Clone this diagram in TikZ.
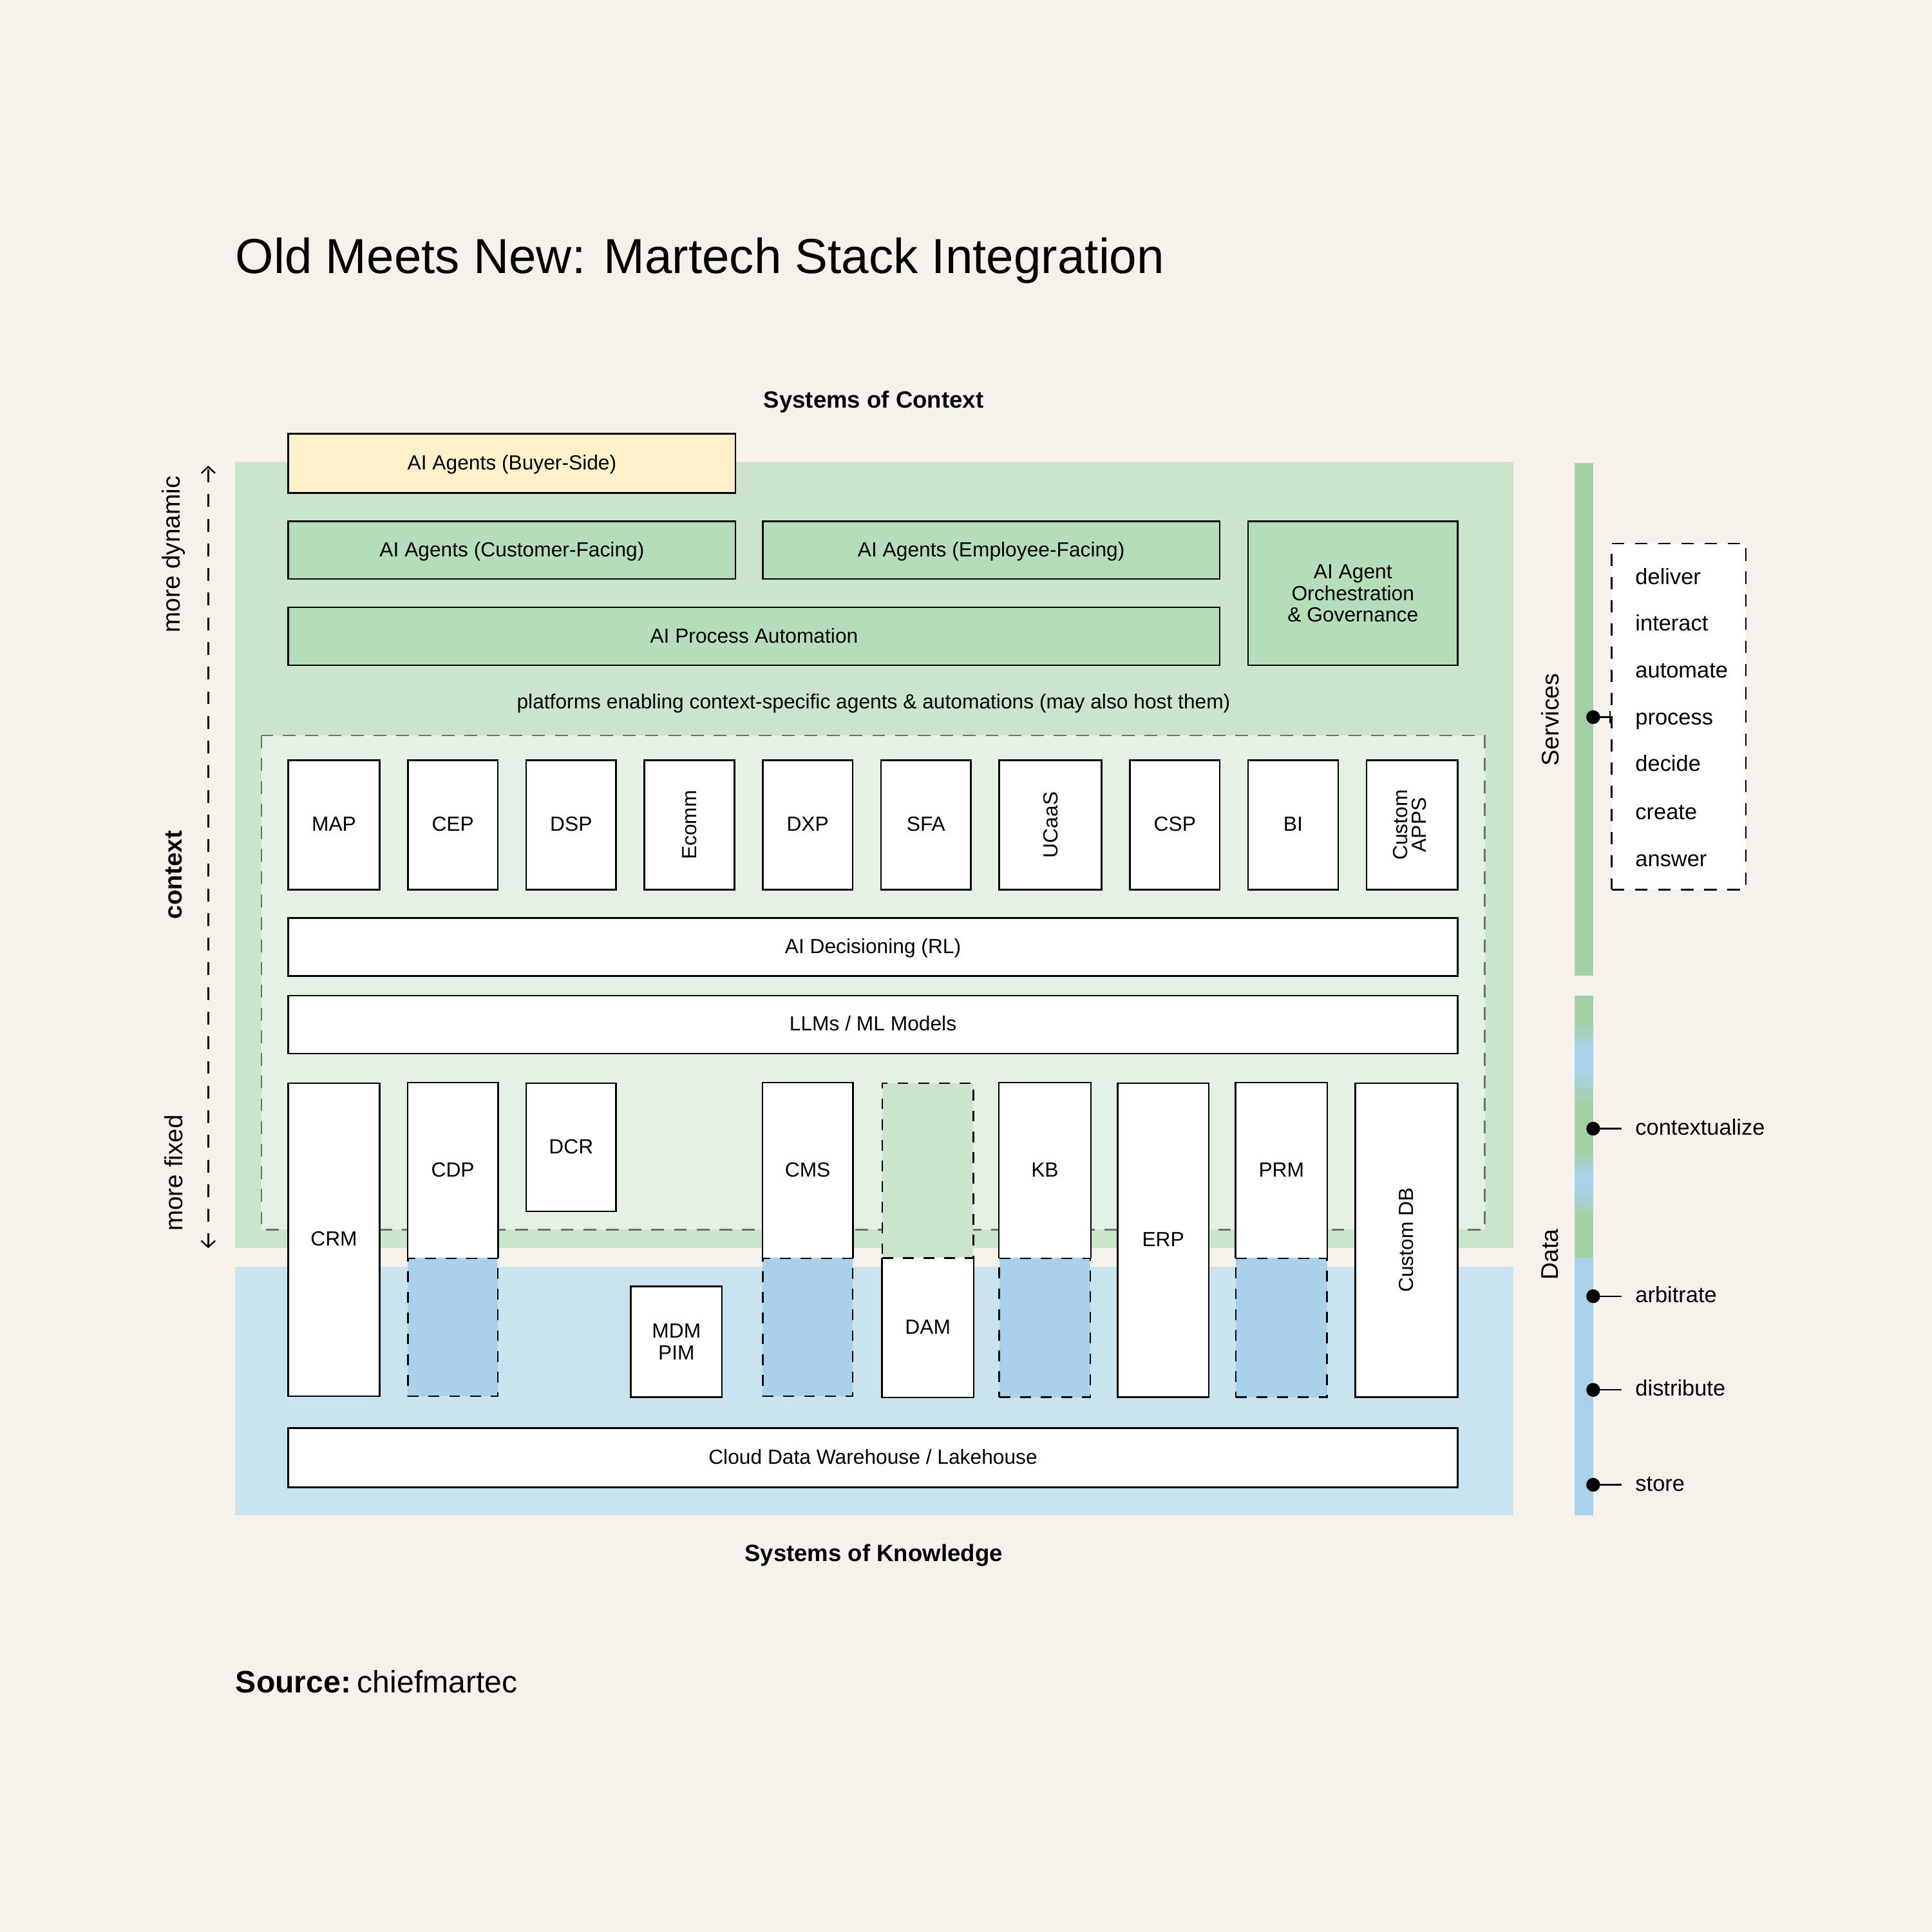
\documentclass[tikz,border=0pt]{standalone}
\usepackage{fontspec}
\setmainfont{Liberation Sans}
\usetikzlibrary{arrows.meta}
\definecolor{bgc}{HTML}{F6F2EB}
\definecolor{gregion}{HTML}{CBE5CC}
\definecolor{ginner}{HTML}{E4F1E4}
\definecolor{bregion}{HTML}{C9E3EF}
\definecolor{gbox}{HTML}{B6DDBA}
\definecolor{ybox}{HTML}{FEF1CA}
\definecolor{bdash}{HTML}{A9D1EA}
\definecolor{gbar}{HTML}{A3CFA6}
\definecolor{bbar}{HTML}{AAD2EA}
\definecolor{dgray}{HTML}{6A766A}
\newcommand\fboxt{\fontsize{11.8pt}{13.6pt}\selectfont}
\newcommand\fside{\fontsize{12.8pt}{14pt}\selectfont}
\newcommand\fleft{\fontsize{14.4pt}{16pt}\selectfont}
% [style] name x1 y1 x2 y2 text
\newcommand\rbox[7][]{\node[#1, minimum width={(#5-#3)*0.25mm}, minimum height={(#6-#4)*0.25mm}] (#2) at ({(#3+#5)/2},{(#4+#6)/2}) {#7};}
\tikzset{
  capc/.style={text height=1.38ex, text depth=0pt},
  natural/.style={text height=, text depth=},
  boxx/.style={draw=black, line width=0.9pt, fill=white, inner sep=0pt, font=\fboxt, align=center, capc},
  topwhite/.style={fill=white, inner sep=0pt, font=\fboxt, align=center, capc},
  bluedash/.style={draw=black, line width=0.9pt, fill=bdash, dash pattern=on 2.2mm off 2mm, inner sep=0pt},
  greendash/.style={draw=black, line width=0.9pt, fill=gregion, dash pattern=on 2.2mm off 2mm, inner sep=0pt},
  openline/.style={draw=black, line width=0.9pt},
  dotn/.style={circle, fill=black, inner sep=0pt, minimum size=2.8mm},
  conn/.style={line width=0.9pt},
  itemtxt/.style={anchor=west, font=\fside, inner sep=0pt, capc},
}
\begin{document}
\begin{tikzpicture}[x=0.25mm,y=-0.25mm]
\fill[bgc] (0,0) rectangle (1568,1568);
\useasboundingbox (0,0) rectangle (1568,1568);

% title
\node[anchor=base west, inner sep=0pt, font=\fontsize{28.4pt}{32pt}\selectfont] (title) at (191,222) {Old Meets New: Martech Stack Integration};
\node[anchor=base, inner sep=0pt, font=\fontsize{13.6pt}{16pt}\selectfont\bfseries] (soc) at (709,331) {Systems of Context};
\node[anchor=base, inner sep=0pt, font=\fontsize{13.6pt}{16pt}\selectfont\bfseries] (sok) at (709,1267) {Systems of Knowledge};
\node[anchor=base west, inner sep=0pt, font=\fontsize{17.9pt}{20pt}\selectfont] (src) at (191,1374) {\textbf{Source:}\hspace{0.2em}chiefmartec};

% regions
\fill[gregion] (191,375) rectangle (1228,1013);
\fill[bregion] (191,1028) rectangle (1228,1230);
\draw[dgray, fill=ginner, line width=0.8pt, dash pattern=on 2.6mm off 2mm] (212,597) rectangle (1205,998);

% AI boxes
\rbox[boxx, fill=ybox]{buyer}{234}{352}{597}{400}{AI Agents (Buyer-Side)}
\rbox[boxx, fill=gbox]{cust}{234}{423}{597}{470}{AI Agents (Customer-Facing)}
\rbox[boxx, fill=gbox]{empl}{619}{423}{990}{470}{AI Agents (Employee-Facing)}
\rbox[boxx, fill=gbox]{proc}{234}{493}{990}{540}{AI Process Automation}
\rbox[boxx, fill=gbox, natural]{orch}{1013}{423}{1183}{540}{AI Agent\\[-1pt]Orchestration\\[-1pt]\& Governance}
\node[font=\fboxt, inner sep=0pt, capc] (plat) at (709,570) {platforms enabling context-specific agents \& automations (may also host them)};

% top row
\rbox[boxx]{map}{234}{617}{308}{722}{MAP}
\rbox[boxx]{cep}{331}{617}{404}{722}{CEP}
\rbox[boxx]{dsp}{427}{617}{500}{722}{DSP}
\rbox[boxx, natural]{ecomm}{523}{617}{596}{722}{\rotatebox{90}{Ecomm}}
\rbox[boxx]{dxp}{619}{617}{692}{722}{DXP}
\rbox[boxx]{sfa}{715}{617}{788}{722}{SFA}
\rbox[boxx, natural]{ucaas}{811}{617}{894}{722}{\rotatebox{90}{UCaaS}}
\rbox[boxx]{csp}{917}{617}{990}{722}{CSP}
\rbox[boxx]{bi}{1013}{617}{1086}{722}{BI}
\rbox[boxx, natural]{capps}{1109}{617}{1183}{722}{\rotatebox{90}{\begin{tabular}{@{}c@{}}Custom\\[-3pt]APPS\end{tabular}}}

\rbox[boxx]{aidec}{234}{745}{1183}{792}{AI Decisioning (RL)}
\rbox[boxx]{llm}{234}{808}{1183}{855}{LLMs / ML Models}

% bottom row
\rbox[boxx]{crm}{234}{879}{308}{1133}{CRM}
\rbox[bluedash]{cdpb}{331}{1021}{404}{1133}{}
\rbox[topwhite]{cdp}{331}{879}{404}{1021}{CDP}
\draw[openline] (cdp.south west) -- (cdp.north west) -- (cdp.north east) -- (cdp.south east);
\rbox[boxx]{dcr}{427}{879}{500}{983}{DCR}
\rbox[boxx, natural]{mdm}{512}{1044}{586}{1134}{MDM\\[-1pt]PIM}
\rbox[bluedash]{cmsb}{619}{1021}{692}{1133}{}
\rbox[topwhite]{cms}{619}{879}{692}{1021}{CMS}
\draw[openline] (cms.south west) -- (cms.north west) -- (cms.north east) -- (cms.south east);
\rbox[topwhite]{dam}{716}{1021}{790}{1134}{DAM}
\draw[openline] (dam.north west) -- (dam.south west) -- (dam.south east) -- (dam.north east);
\rbox[greendash]{damt}{716}{879}{790}{1021}{}
\rbox[bluedash]{kbb}{811}{1021}{885}{1134}{}
\rbox[topwhite]{kb}{811}{879}{885}{1021}{KB}
\draw[openline] (kb.south west) -- (kb.north west) -- (kb.north east) -- (kb.south east);
\rbox[boxx]{erp}{907}{879}{981}{1134}{ERP}
\rbox[bluedash]{prmb}{1003}{1021}{1077}{1134}{}
\rbox[topwhite]{prm}{1003}{879}{1077}{1021}{PRM}
\draw[openline] (prm.south west) -- (prm.north west) -- (prm.north east) -- (prm.south east);
\rbox[boxx, natural]{cdb}{1100}{879}{1183}{1134}{\rotatebox{90}{Custom DB}}

\rbox[boxx]{cdw}{234}{1159}{1183}{1207}{Cloud Data Warehouse / Lakehouse}

% left axis
\coordinate (atop) at (169,378);
\coordinate (abot) at (169,1013);
\draw[line width=0.9pt, dash pattern=on 2.6mm off 2.4mm, {Straight Barb[length=1.3mm,width=2.8mm]}-{Straight Barb[length=1.3mm,width=2.8mm]}] (abot) -- (atop);
\node[rotate=90, font=\fleft, inner sep=0pt] (mdyn) at (141,450) {more dynamic};
\node[rotate=90, font=\fleft\bfseries, inner sep=0pt] (ctx) at (141,710) {context};
\node[rotate=90, font=\fleft, inner sep=0pt] (mfix) at (141,952) {more fixed};

% right bars
\fill[gbar] (1278,376) rectangle (1293,792);
\fill[gbar] (1278,808) rectangle (1293,830);
\shade[top color=gbar, bottom color=bbar] (1278,830) rectangle (1293,850);
\fill[bbar] (1278,850) rectangle (1293,870);
\shade[top color=bbar, bottom color=gbar] (1278,870) rectangle (1293,895);
\fill[gbar] (1278,895) rectangle (1293,935);
\shade[top color=gbar, bottom color=bbar] (1278,935) rectangle (1293,952);
\fill[bbar] (1278,952) rectangle (1293,965);
\shade[top color=bbar, bottom color=gbar] (1278,965) rectangle (1293,987);
\fill[gbar] (1278,987) rectangle (1293,1021);
\fill[bbar] (1278,1021) rectangle (1293,1230);
\node[rotate=90, font=\fontsize{13.9pt}{15pt}\selectfont, inner sep=0pt] (svc) at (1258,584) {Services};
\node[rotate=90, font=\fontsize{13.9pt}{15pt}\selectfont, inner sep=0pt] (dat) at (1258,1018) {Data};

% services box
\rbox[draw=black, fill=white, line width=0.9pt, dash pattern=on 2.5mm off 2.2mm]{svcbox}{1308}{441}{1417}{722}{}
\node[itemtxt] (i1) at (1327,469) {deliver};
\node[itemtxt] (i2) at (1327,507) {interact};
\node[itemtxt] (i3) at (1327,545) {automate};
\node[itemtxt] (i4) at (1327,583) {process};
\node[itemtxt] (i5) at (1327,621) {decide};
\node[itemtxt] (i6) at (1327,660) {create};
\node[itemtxt] (i7) at (1327,698) {answer};

\node[dotn] (ds) at (1293,582) {};
\draw[conn, -{Bar[width=2.6mm]}] (ds.center) -- (svcbox.west |- ds);

% data items
\node[dotn] (d1) at (1293,916) {};
\node[dotn] (d2) at (1293,1052) {};
\node[dotn] (d3) at (1293,1128) {};
\node[dotn] (d4) at (1293,1205) {};
\coordinate (e1) at (1316,916);
\coordinate (e2) at (1316,1052);
\coordinate (e3) at (1316,1128);
\coordinate (e4) at (1316,1205);
\draw[conn] (d1.center) -- (e1);
\draw[conn] (d2.center) -- (e2);
\draw[conn] (d3.center) -- (e3);
\draw[conn] (d4.center) -- (e4);
\node[itemtxt] (t1) at (1327,916) {contextualize};
\node[itemtxt] (t2) at (1327,1052) {arbitrate};
\node[itemtxt] (t3) at (1327,1128) {distribute};
\node[itemtxt] (t4) at (1327,1205) {store};
\end{tikzpicture}
\end{document}
